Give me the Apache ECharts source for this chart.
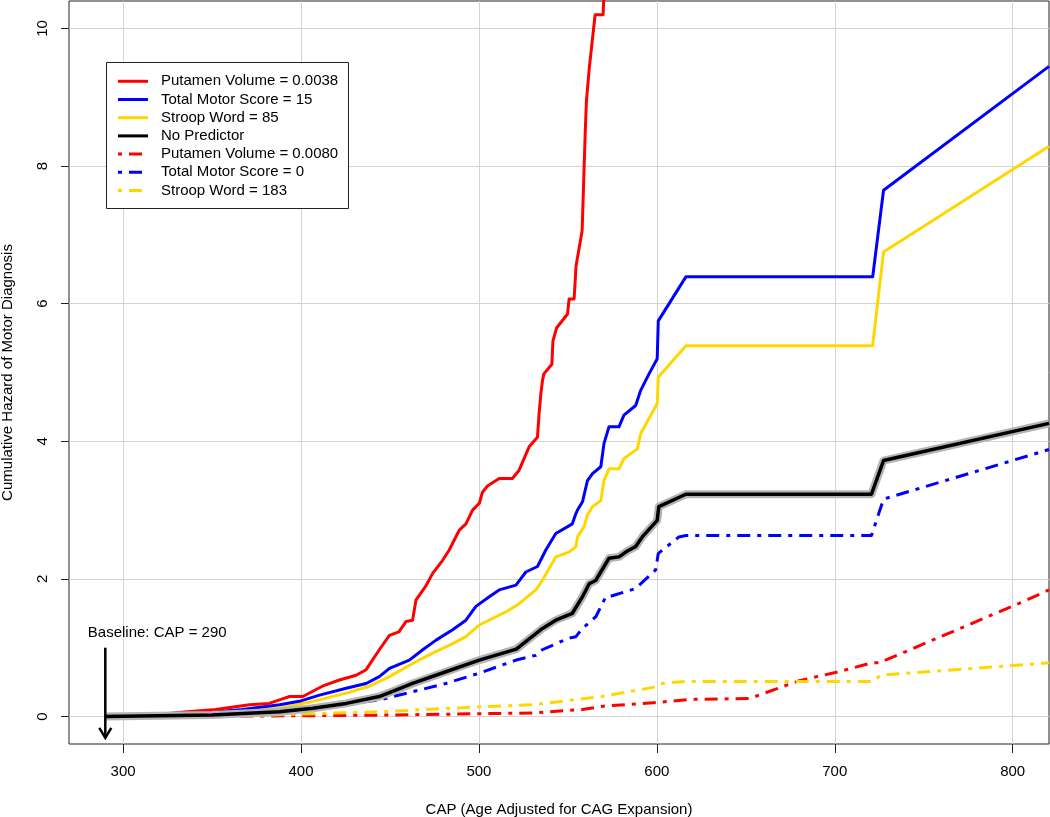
<!DOCTYPE html>
<html><head><meta charset="utf-8">
<script src="https://cdn.jsdelivr.net/npm/echarts@6/dist/echarts.min.js"></script>
<style>html,body{margin:0;padding:0;background:#fff}#c{width:1050px;height:817px}</style>
</head><body><div id="c"></div>
<script>
// ---- tick labels ----
const xTicks = [300, 400, 500, 600, 700, 800];
const yTicks = [0, 2, 4, 6, 8, 10];
const baselineCAP = 290;

// ---- series data ----
const blackX = [290, 350, 388, 406.6, 425.4, 444, 462.7, 481.4, 500.2, 521, 535.7, 543.2, 552.5, 558.2, 562, 565.7, 573.1, 578.7, 582.5, 588.1, 591.8, 600.2, 601.1, 616.3, 720.6, 727.4, 820.4];
const blackY = [0, 0.02, 0.07, 0.12, 0.19, 0.29, 0.48, 0.65, 0.82, 0.98, 1.28, 1.4, 1.5, 1.74, 1.93, 1.98, 2.3, 2.32, 2.39, 2.47, 2.61, 2.85, 3.05, 3.23, 3.23, 3.72, 4.26];

const blueX = [290, 340, 367, 388, 399, 410.4, 425.4, 436.6, 444, 449.7, 460.9, 468.4, 475.9, 485.2, 492.7, 498.3, 505.8, 511.4, 520.8, 526.4, 532.9, 537.6, 543.2, 552.5, 554.5, 555.4, 558.2, 561, 563.8, 568.5, 570.3, 573.1, 578.7, 581.5, 588.1, 590.9, 595.6, 600.2, 600.8, 616.3, 721.3, 727.4, 820.4];
const blueY = [0, 0.04, 0.1, 0.17, 0.22, 0.31, 0.41, 0.48, 0.58, 0.7, 0.82, 0.97, 1.11, 1.26, 1.4, 1.6, 1.74, 1.84, 1.91, 2.1, 2.18, 2.42, 2.66, 2.8, 2.95, 3.0, 3.12, 3.43, 3.53, 3.63, 3.97, 4.21, 4.21, 4.38, 4.52, 4.74, 4.98, 5.2, 5.75, 6.39, 6.39, 7.65, 9.45];

const goldX = [290, 340, 388, 406.6, 425.4, 438.4, 449.7, 462.7, 474, 485.2, 492.7, 500.2, 515.1, 522.6, 532, 535.7, 543.2, 550.6, 554.5, 555.4, 559.1, 561, 563.8, 568.5, 570.3, 573.1, 578.7, 581.5, 589, 590.9, 600.2, 600.8, 616.3, 721.3, 727.4, 820.4];
const goldY = [0, 0.03, 0.12, 0.22, 0.34, 0.44, 0.58, 0.77, 0.92, 1.06, 1.16, 1.33, 1.52, 1.64, 1.84, 1.98, 2.32, 2.39, 2.47, 2.61, 2.76, 2.93, 3.05, 3.14, 3.43, 3.6, 3.6, 3.75, 3.89, 4.11, 4.55, 4.93, 5.39, 5.39, 6.75, 8.29];

const redX = [290, 320, 336, 352, 371, 382, 390, 393.6, 401, 412, 421.6, 431, 436.6, 444, 449.7, 455, 459, 462.7, 464.6, 470, 474, 479.6, 483.3, 489, 492.7, 496.4, 500.2, 502, 504.8, 511.4, 518.8, 522.6, 528.2, 532.9, 533.8, 534.8, 535.7, 536.5, 541, 541.6, 543.7, 549.8, 550.7, 553.5, 554.6, 558, 559.7, 560.4, 562, 565.3, 569.8, 571];
const redY = [0, 0.03, 0.07, 0.1, 0.17, 0.19, 0.26, 0.29, 0.29, 0.44, 0.53, 0.6, 0.68, 0.97, 1.18, 1.23, 1.38, 1.4, 1.69, 1.89, 2.08, 2.27, 2.42, 2.71, 2.8, 3.0, 3.1, 3.26, 3.35, 3.46, 3.46, 3.58, 3.92, 4.06, 4.4, 4.69, 4.88, 4.98, 5.12, 5.46, 5.65, 5.85, 6.07, 6.07, 6.55, 7.06, 8.46, 8.94, 9.42, 10.2, 10.2, 11];

const redDashX = [290, 400, 446, 500, 530, 540, 558, 570, 598, 620, 652, 680, 702, 721, 725, 805, 820.4];
const redDashY = [0, 0.01, 0.02, 0.04, 0.05, 0.07, 0.1, 0.15, 0.2, 0.25, 0.26, 0.52, 0.65, 0.78, 0.78, 1.66, 1.84];

const blueDashX = [290, 350, 400, 444, 462.7, 481.4, 500.2, 521, 532, 535.6, 550.6, 554.5, 558.2, 565.7, 571.3, 573.1, 588.1, 599.3, 600.8, 612.4, 616.3, 720.6, 727.4, 820.4];
const blueDashY = [0, 0.02, 0.1, 0.24, 0.36, 0.48, 0.63, 0.82, 0.89, 0.97, 1.14, 1.16, 1.28, 1.45, 1.74, 1.74, 1.86, 2.13, 2.37, 2.61, 2.63, 2.63, 3.16, 3.88];

const goldDashX = [290, 380, 446, 500, 530, 569, 599.5, 603, 616, 721.7, 725.6, 820.4];
const goldDashY = [0, 0.02, 0.07, 0.14, 0.17, 0.29, 0.43, 0.48, 0.51, 0.51, 0.6, 0.78];

const legendNames = ['Putamen Volume = 0.0038', 'Total Motor Score = 15', 'Stroop Word = 85', 'No Predictor',
                     'Putamen Volume = 0.0080', 'Total Motor Score = 0', 'Stroop Word = 183'];
const legendColors = ['#ff0000', '#0000ff', '#ffd700', '#000000', '#ff0000', '#0000ff', '#ffd700'];
const legendDashed = [false, false, false, false, true, true, true];

(function () {
const FONT = '"Liberation Sans", Arial, Helvetica, sans-serif';
const FS = 15;
const DASH = [4, 7, 13, 7];
const pairs = (xs, ys) => xs.map((x, i) => [x, ys[i]]);

function lineSeries(name, xs, ys, color, dashed, width, z) {
  return {
    name, type: 'line', data: pairs(xs, ys), showSymbol: false, symbol: 'none',
    animation: false, silent: true, z: z, clip: true,
    lineStyle: { color, width: width, type: dashed ? DASH : 'solid', cap: 'butt', join: 'round' }
  };
}

const chart = echarts.init(document.getElementById('c'), null, { renderer: 'canvas' });

const option = {
  animation: false,
  backgroundColor: '#fff',
  grid: { left: 69, right: 1, top: 1, bottom: 73, show: true, borderColor: '#222', borderWidth: 1,
          backgroundColor: 'transparent', containLabel: false, outerBoundsMode: 'none' },
  xAxis: {
    type: 'value', min: 269.6, max: 820.4,
    name: 'CAP (Age Adjusted for CAG Expansion)', nameLocation: 'middle', nameGap: 58,
    nameTextStyle: { fontFamily: FONT, fontSize: FS, color: '#000' },
    axisLine: { show: false, onZero: false },
    axisTick: { show: true, length: 9, lineStyle: { color: '#222' }, customValues: xTicks },
    axisLabel: { fontFamily: FONT, fontSize: FS, color: '#000', margin: 20, customValues: xTicks },
    splitLine: { show: true, lineStyle: { color: '#d3d3d3', width: 1 } }
  },
  yAxis: {
    type: 'value', min: -0.4, max: 10.4,
    name: 'Cumulative Hazard of Motor Diagnosis', nameLocation: 'middle', nameGap: 54, nameRotate: 90,
    nameTextStyle: { fontFamily: FONT, fontSize: FS, color: '#000' },
    axisLine: { show: false, onZero: false },
    axisTick: { show: true, length: 8, lineStyle: { color: '#222' }, customValues: yTicks },
    axisLabel: { fontFamily: FONT, fontSize: FS, color: '#000', margin: 19, rotate: 90, customValues: yTicks },
    splitLine: { show: true, lineStyle: { color: '#d3d3d3', width: 1 } }
  },
  series: [
    lineSeries('Putamen Volume = 0.0080', redDashX, redDashY, '#ff0000', true, 3, 2),
    lineSeries('Stroop Word = 183', goldDashX, goldDashY, '#ffd700', true, 3, 2),
    lineSeries('Total Motor Score = 0', blueDashX, blueDashY, '#0000ff', true, 3, 2),
    lineSeries('Stroop Word = 85', goldX, goldY, '#ffd700', false, 3, 3),
    lineSeries('Total Motor Score = 15', blueX, blueY, '#0000ff', false, 3, 3),
    lineSeries('Putamen Volume = 0.0038', redX, redY, '#ff0000', false, 3, 3),
    lineSeries('band', blackX, blackY, '#b4b4b4', false, 8, 4),
    lineSeries('No Predictor', blackX, blackY, '#000000', false, 3.5, 5)
  ]
};
chart.setOption(option);

// ---- legend and annotation (graphic) ----
const g = [];
const lx = 106, ly = 62, lw = 242, rowH = 18.2, firstRow = 81.3;
g.push({ type: 'rect', shape: { x: lx + 0.5, y: ly + 0.5, width: lw, height: 146 }, style: { fill: '#fff', stroke: '#222', lineWidth: 1 }, z: 100 });
legendNames.forEach((nm, i) => {
  const yy = firstRow + rowH * i;
  g.push({ type: 'line', shape: { x1: 118, y1: yy, x2: 148, y2: yy },
           style: { stroke: legendColors[i], lineWidth: 3, lineDash: legendDashed[i] ? DASH : null, lineCap: 'butt' }, z: 101 });
  g.push({ type: 'text', x: 161, y: yy, style: { text: nm, fontFamily: FONT, fontSize: FS, fill: '#000', verticalAlign: 'middle', align: 'left' }, z: 101 });
});

const pTop = chart.convertToPixel({ gridIndex: 0 }, [baselineCAP, 1.0]);
const pTip = chart.convertToPixel({ gridIndex: 0 }, [baselineCAP, -0.31]);
const pTxt = chart.convertToPixel({ gridIndex: 0 }, [baselineCAP, 1.21]);
g.push({ type: 'line', shape: { x1: pTop[0], y1: pTop[1], x2: pTip[0], y2: pTip[1] }, style: { stroke: '#000', lineWidth: 2.5 }, z: 110 });
g.push({ type: 'polyline', shape: { points: [[pTip[0] - 6, pTip[1] - 10], [pTip[0], pTip[1]], [pTip[0] + 6, pTip[1] - 10]] }, style: { stroke: '#000', lineWidth: 2.5, fill: null }, z: 110 });
g.push({ type: 'text', x: pTxt[0] - 17.5, y: pTxt[1], style: { text: 'Baseline: CAP = ' + baselineCAP, fontFamily: FONT, fontSize: FS, fill: '#000', verticalAlign: 'middle', align: 'left' }, z: 110 });

chart.setOption({ graphic: g });
})();
</script>
</body></html>
